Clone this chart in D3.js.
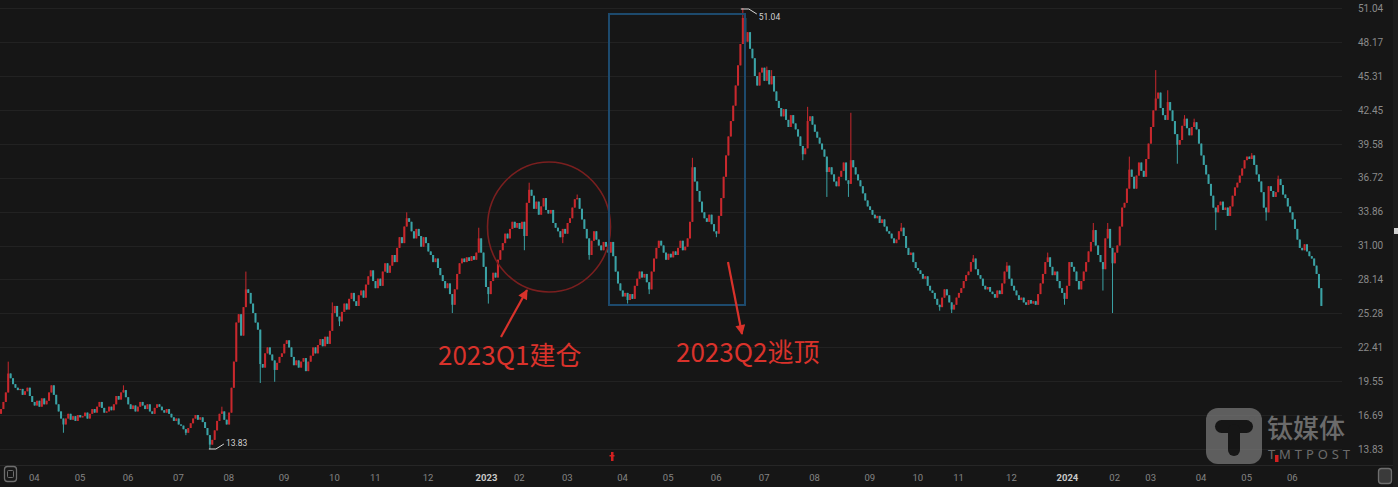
<!DOCTYPE html>
<html><head><meta charset="utf-8">
<script src="https://cdn.jsdelivr.net/npm/d3@7"></script>
<style>html,body{margin:0;padding:0;background:#161616;overflow:hidden}</style>
</head><body><svg id="c" width="1398" height="487"></svg>
<script>
// ---- data ----
const monthLabels = ["", "04","05","06","07","08","09","10","11","12",
  "2023","02","03","04","05","06","07","08","09","10","11","12",
  "2024","02","03","04","05","06"];
const monthDays = [15,19,20,21,21,23,21,17,22,22, 16,20,23,19,20,20,21,23,20,17,22,21, 22,15,21,19,19,12];
const firstOpen = 16.8;
const closes2022 = [
  17.2,17.8,18.6,20.2,19.8,19.3,19.0,18.8,18.9,18.4,18.7,19.0,18.3,17.8,17.5,
  17.9,17.4,18.1,17.6,17.9,18.6,19.2,18.4,17.6,17.0,16.4,15.9,16.4,16.8,16.3,16.6,16.2,16.7,16.5,
  16.6,16.9,16.4,16.8,17.2,16.9,17.4,17.8,17.3,16.9,17.0,17.4,17.1,17.6,18.3,18.0,18.6,18.8,18.2,17.6,
  17.2,17.5,17.0,17.4,17.8,17.5,17.2,17.6,17.0,16.8,17.3,17.6,17.4,17.1,16.9,17.2,16.8,16.5,16.2,16.4,15.9,
  15.8,15.5,15.2,15.6,16.0,16.4,16.7,16.3,16.5,16.1,15.6,15.0,14.2,14.6,15.4,16.2,16.8,17.0,16.3,15.9,16.9,
  19.0,21.2,24.5,25.2,23.4,25.8,27.3,27.0,26.1,25.3,24.5,23.9,21.0,20.7,21.9,22.4,21.8,21.3,20.5,21.1,21.6,21.9,22.7,
  23.0,22.4,21.6,20.9,21.3,20.7,21.2,21.5,20.4,21.2,21.7,22.4,21.9,22.6,23.1,22.5,23.3,22.7,23.8,25.3,25.9,
  25.0,24.6,25.4,26.1,25.6,26.5,27.0,26.3,25.9,26.8,27.2,26.6,27.7,28.4,28.9,28.0,27.4,
  28.2,27.6,28.8,29.5,28.7,29.3,30.2,29.6,30.8,31.7,31.2,32.6,33.3,33.0,32.2,31.6,32.4,31.8,30.9,31.7,31.2,30.5,
  30.2,29.6,29.9,29.1,28.5,28.0,27.4,27.8,26.9,26.0,27.3,28.6,29.5,29.9,29.6,30.0,29.7,30.1,29.8,30.4,31.6,30.4
];
const closes2023 = [
  29.2,27.5,26.9,28.0,28.7,28.3,29.8,30.6,31.2,32.0,31.6,32.4,33.0,32.5,32.9,32.4,
  33.0,31.8,34.6,35.7,35.2,34.1,34.7,33.6,34.3,35.0,34.0,33.7,34.0,32.9,32.5,32.2,31.7,32.4,32.0,32.9,
  33.3,34.2,34.9,35.0,34.1,33.2,32.4,31.6,30.2,31.4,32.2,31.5,31.0,30.6,31.3,30.9,30.4,31.3,30.1,28.8,27.8,27.2,26.7,
  27.0,26.4,26.9,26.5,27.6,28.2,28.8,28.3,28.6,27.9,27.3,28.8,29.9,30.8,31.4,31.0,30.4,29.8,30.3,
  30.0,30.5,30.2,30.8,31.4,30.6,30.9,31.6,33.0,37.6,36.4,35.6,34.7,33.8,33.3,33.0,33.6,32.8,32.2,32.0,
  33.5,35.0,36.8,38.6,40.2,41.5,42.8,44.5,46.2,48.0,50.2,48.2,49.0,47.6,46.8,45.3,44.5,45.6,46.0,44.9,
  45.8,44.6,45.3,44.0,43.2,42.6,41.9,42.5,41.6,41.0,42.0,41.3,40.8,40.2,39.4,38.7,39.2,41.5,41.9,41.2,40.6,
  40.1,39.6,39.1,38.5,37.2,37.6,37.0,36.4,36.0,36.8,37.3,38.0,36.5,36.2,38.2,37.6,37.0,36.5,36.0,35.4,34.8,34.3,34.0,
  33.6,33.3,33.5,32.9,33.2,32.6,32.2,32.0,31.6,31.2,31.5,32.2,32.5,31.8,30.8,30.2,30.4,29.6,29.1,28.9,
  28.6,28.2,28.4,27.6,27.2,27.0,26.5,26.0,25.8,26.6,27.3,26.8,26.2,25.6,26.0,26.6,27.0,
  27.4,28.0,28.5,28.8,29.6,29.9,29.0,28.5,28.2,27.6,27.3,27.5,27.1,26.9,26.6,27.2,26.9,27.8,28.8,29.3,28.2,27.6,
  27.2,26.8,26.4,26.6,26.2,26.0,26.4,26.1,26.3,26.0,26.9,27.8,28.6,29.6,30.0,29.2,28.5,28.8,28.0,27.4,27.0
];
const closes2024 = [
  26.5,27.6,29.6,29.2,28.8,28.0,27.3,28.0,28.8,29.6,30.5,31.3,32.3,31.0,30.2,29.6,29.0,31.6,32.4,30.8,29.5,30.4,
  31.0,32.6,34.2,34.6,35.8,37.4,36.8,35.8,36.9,38.0,37.3,36.8,38.3,39.6,41.0,
  42.4,43.4,43.9,42.6,42.0,41.6,43.1,42.4,41.5,40.4,39.5,39.9,41.1,41.7,40.9,40.3,41.0,41.4,40.8,39.6,38.6,
  37.8,37.0,36.2,35.2,34.2,33.8,34.4,34.7,34.0,34.2,33.5,34.3,35.2,35.9,36.3,36.9,37.5,38.2,38.5,
  38.3,38.6,37.8,37.0,36.4,35.5,34.2,33.8,36.0,35.6,35.1,35.5,36.6,36.1,35.3,35.0,34.3,33.8,33.2,
  32.4,31.5,30.8,30.6,31.1,30.5,30.1,29.9,29.3,28.6,27.4,25.9
];
// intraday extremes beyond the body, for candles with visible wicks
const wickIndex = [3,26,51,77,87,92,102,108,114,138, 141,169,188,199,203,218,220,240,245,261,
  288,309,319,334,336,344,353,354,375,396, 405,419,436,443,455,459,461,463,470,481, 486,490,506,521,527,532,
  234,270,298,321,391,493,497];
const wickHigh = [21.2,null,19.2,null,null,17.4,28.8,null,null,26.2, null,33.8,null,32.5,null,null,36.3,35.3,null,null,
  38.4,51.04,46.1,null,42.7,null,null,42.2,32.9,null, 30.2,29.6,30.4,null,32.9,null,32.9,null,38.5,45.8, 44.1,null,null,38.8,null,36.9,
  null,null,null,45.8,null,42.0,41.7];
const wickLow = [null,15.2,null,15.0,13.83,null,null,19.4,19.5,null, 24.2,null,25.3,null,26.1,30.6,null,null,29.8,26.1,
  null,null,null,38.2,null,35.1,35.1,null,null,25.3, null,null,null,26.0,null,27.2,null,25.3,null,null, null,37.9,32.3,null,33.1,null,
  31.2,26.9,31.7,null,25.5,null,null];
const yTickLabels = ["51.04","48.17","45.31","42.45","39.58","36.72","33.86","31.00","28.14","25.28","22.41","19.55","16.69","13.83"];
const priceMin = 13.83, priceMax = 51.04;

// ---- build candles ----
const closes = closes2022.concat(closes2023, closes2024);
const candles = closes.map((c, i) => {
  const o = i === 0 ? firstOpen : closes[i - 1];
  return {i, o, c, h: Math.max(o, c), l: Math.min(o, c)};
});
wickIndex.forEach((idx, k) => {
  if (wickHigh[k] != null) candles[idx].h = Math.max(candles[idx].h, wickHigh[k]);
  if (wickLow[k] != null) candles[idx].l = Math.min(candles[idx].l, wickLow[k]);
});
const monthStart = [];
monthDays.reduce((acc, d) => { monthStart.push(acc); return acc + d; }, 0);

// ---- scales ----
const svg = d3.select("#c");
const W = 1398, H = 487;
svg.append("rect").attr("width", W).attr("height", H).attr("fill", "#161616");
const x = d3.scaleBand().domain(d3.range(candles.length)).range([0, 1322.4]).paddingInner(0.15);
const y = d3.scaleLinear().domain([priceMin, priceMax]).range([449, 8]);
const cx = i => x(i) + x.bandwidth() / 2;

// grid
const tickVals = yTickLabels.map(Number);
svg.append("g").selectAll("line").data(tickVals).join("line")
  .attr("x1", 0).attr("x2", 1342).attr("y1", d => Math.round(y(d)) + 0.5).attr("y2", d => Math.round(y(d)) + 0.5)
  .attr("stroke", "#222222").attr("stroke-width", 1);

// right axis labels
const yAxis = d3.axisRight(y).tickValues(tickVals).tickFormat((d, k) => yTickLabels[k]).tickSize(0).tickPadding(0);
const ga = svg.append("g").attr("transform", "translate(1358,0)").call(yAxis);
ga.select(".domain").remove();
ga.selectAll("text").attr("fill", "#8a8a8a").attr("font-size", 10).attr("font-family", "Roboto, 'Noto Sans', sans-serif");

// candles
const up = "#c8282d", down = "#3aa2a5";
const g = svg.append("g");
g.selectAll("line.w").data(candles).join("line").attr("class", "w")
  .attr("x1", d => cx(d.i)).attr("x2", d => cx(d.i))
  .attr("y1", d => y(d.h)).attr("y2", d => y(d.l))
  .attr("stroke", d => d.c >= d.o ? up : down).attr("stroke-width", 1);
g.selectAll("rect.b").data(candles).join("rect").attr("class", "b")
  .attr("x", d => x(d.i)).attr("width", x.bandwidth())
  .attr("y", d => y(Math.max(d.o, d.c)))
  .attr("height", d => Math.max(1.2, Math.abs(y(d.o) - y(d.c))))
  .attr("fill", d => d.c >= d.o ? up : down);

// bottom axis
svg.append("line").attr("x1", 0).attr("x2", W).attr("y1", 465.5).attr("y2", 465.5).attr("stroke", "#262626");
svg.append("g").selectAll("text").data(monthLabels.map((t, k) => ({t, k})).filter(d => d.t)).join("text")
  .attr("x", d => cx(monthStart[d.k]) - 8).attr("y", 481)
  .attr("font-size", 9.5).attr("font-family", "Roboto, 'Noto Sans', sans-serif")
  .attr("font-weight", d => d.t.length === 4 ? "bold" : "normal")
  .attr("fill", d => d.t.length === 4 ? "#c8c8c8" : "#848484")
  .text(d => d.t);

// bottom icons / markers
svg.append("rect").attr("x", 4.5).attr("y", 466.5).attr("width", 12).attr("height", 15).attr("rx", 3)
  .attr("fill", "none").attr("stroke", "#6e6e6e").attr("stroke-width", 1.3);
svg.append("rect").attr("x", 7.5).attr("y", 470.5).attr("width", 6).attr("height", 7).attr("rx", 1)
  .attr("fill", "none").attr("stroke", "#6e6e6e").attr("stroke-width", 1);
svg.append("rect").attr("x", 1378.5).attr("y", 468.5).attr("width", 13).attr("height", 15).attr("rx", 3)
  .attr("fill", "#3a3a3a").attr("stroke", "#6e6e6e").attr("stroke-width", 1.3);
svg.append("rect").attr("x", 611).attr("y", 452).attr("width", 2.5).attr("height", 9).attr("fill", "#d42020");
svg.append("rect").attr("x", 609.5).attr("y", 455).attr("width", 5).attr("height", 1.5).attr("fill", "#d42020");
svg.append("rect").attr("x", 1275).attr("y", 455).attr("width", 3.5).attr("height", 7).attr("fill", "#d42020");
svg.append("rect").attr("x", 1393).attr("y", 0).attr("width", 5).attr("height", H).attr("fill", "#1c1c1c");
svg.append("rect").attr("x", 1394).attr("y", 228).attr("width", 4).attr("height", 6).attr("fill", "#d0d0d0");

// extreme labels
const maxC = candles[309], minC = candles[87];
svg.append("polyline").attr("points", `${cx(309)-2},${y(maxC.h)+1} ${cx(309)+6},${y(maxC.h)+1} ${cx(309)+14},${y(maxC.h)+6}`)
  .attr("fill", "none").attr("stroke", "#d8d8d8").attr("stroke-width", 1);
svg.append("text").attr("x", cx(309) + 16).attr("y", y(maxC.h) + 12).attr("font-size", 8.5)
  .attr("font-family", "Roboto, sans-serif").attr("fill", "#d0d0d0").text(priceMax.toFixed(2));
svg.append("polyline").attr("points", `${cx(87)-1},${y(minC.l)} ${cx(87)+6},${y(minC.l)} ${cx(87)+14},${y(minC.l)-5}`)
  .attr("fill", "none").attr("stroke", "#d8d8d8").attr("stroke-width", 1);
svg.append("text").attr("x", cx(87) + 16).attr("y", y(minC.l) - 3).attr("font-size", 8.5)
  .attr("font-family", "Roboto, sans-serif").attr("fill", "#d0d0d0").text(priceMin.toFixed(2));

// watermark
const wm = svg.append("g").attr("opacity", 0.62);
wm.append("rect").attr("x", 1206).attr("y", 408).attr("width", 56).attr("height", 56).attr("rx", 12).attr("fill", "#8a8a8a");
wm.append("rect").attr("x", 1215).attr("y", 420).attr("width", 38).attr("height", 13).attr("rx", 6.5).attr("fill", "#161616");
wm.append("rect").attr("x", 1228).attr("y", 424).attr("width", 12).attr("height", 32).attr("rx", 6).attr("fill", "#161616");
wm.append("circle").attr("cx", 1252).attr("cy", 419).attr("r", 3).attr("fill", "#8a8a8a");
wm.append("text").attr("x", 1267).attr("y", 438).attr("font-size", 26).attr("font-weight", 500)
  .attr("font-family", "'Noto Sans CJK SC', sans-serif").attr("fill", "#a0a0a0").text("钛媒体");
wm.append("text").attr("x", 1268).attr("y", 459).attr("font-size", 13).attr("font-family", "'Noto Sans', sans-serif")
  .attr("fill", "#a0a0a0").attr("textLength", 82).text("TMTPOST");

// annotations
const red = "#d9322b";
svg.append("ellipse").attr("cx", 549).attr("cy", 227).attr("rx", 61.5).attr("ry", 65)
  .attr("fill", "none").attr("stroke", "#7a1f1f").attr("stroke-width", 1.6);
svg.append("rect").attr("x", 609).attr("y", 14).attr("width", 136).attr("height", 291)
  .attr("fill", "none").attr("stroke", "#1d4a6d").attr("stroke-width", 2);
const defs = svg.append("defs");
defs.append("marker").attr("id", "ah").attr("viewBox", "0 0 10 10").attr("refX", 9).attr("refY", 5)
  .attr("markerWidth", 5).attr("markerHeight", 4.5).attr("orient", "auto")
  .append("path").attr("d", "M0,0 L10,5 L0,10 z").attr("fill", red);
svg.append("line").attr("x1", 501).attr("y1", 337).attr("x2", 527).attr("y2", 290)
  .attr("stroke", red).attr("stroke-width", 2.2).attr("marker-end", "url(#ah)");
svg.append("line").attr("x1", 728).attr("y1", 262).attr("x2", 742).attr("y2", 334)
  .attr("stroke", red).attr("stroke-width", 2.2).attr("marker-end", "url(#ah)");
svg.append("text").attr("x", 438).attr("y", 365).attr("font-size", 26).attr("font-family", "'Noto Sans CJK SC', sans-serif")
  .attr("fill", red).text("2023Q1建仓");
svg.append("text").attr("x", 676).attr("y", 362).attr("font-size", 26).attr("font-family", "'Noto Sans CJK SC', sans-serif")
  .attr("fill", red).text("2023Q2逃顶");
</script></body></html>
